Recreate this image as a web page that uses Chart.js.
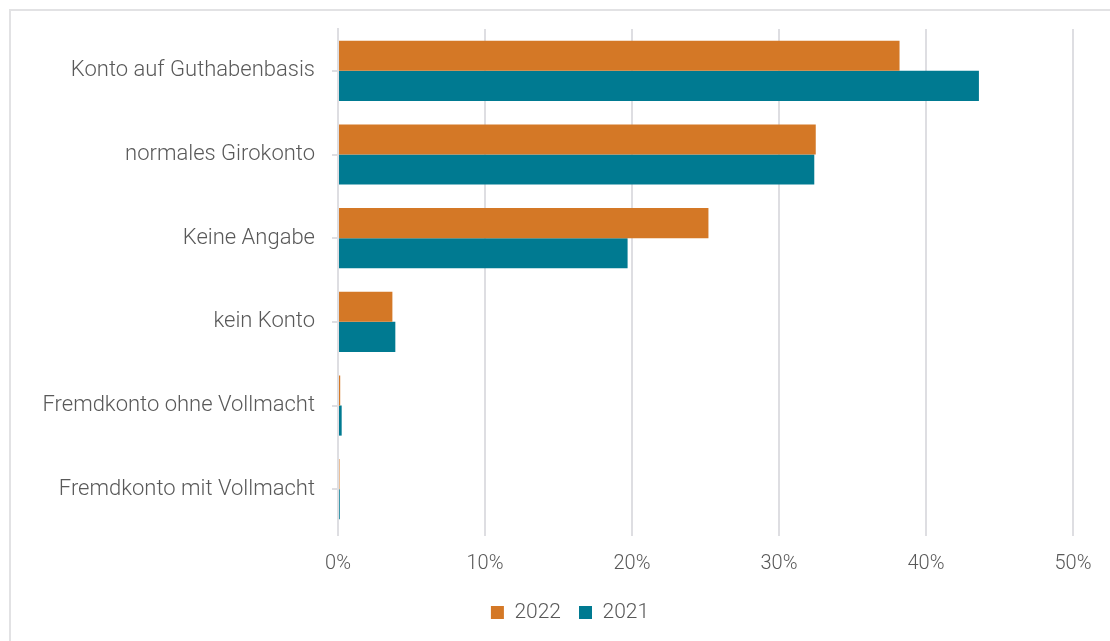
<!DOCTYPE html>
<html>
<head>
<meta charset="utf-8">
<script src="https://cdn.jsdelivr.net/npm/chart.js@4"></script>
<style>
  html, body { margin: 0; padding: 0; background: #fff; overflow: hidden; }
  #frame {
    position: absolute; left: 9px; top: 9px;
    width: 1130px; height: 650px;
    border: 2px solid #e2e2e4;
  }
  #konten { position: absolute; left: 0; top: 0; }
</style>
</head>
<body>
<div id="frame"><canvas id="konten" width="1120" height="630"></canvas></div>
<script>
// Kategorien und Anteile in Prozent
const kategorien = [
  'Konto auf Guthabenbasis',
  'normales Girokonto',
  'Keine Angabe',
  'kein Konto',
  'Fremdkonto ohne Vollmacht',
  'Fremdkonto mit Vollmacht'
]
const werte2022 = [38.2, 32.5, 25.2, 3.7, 0.15, 0.1]
const werte2021 = [43.6, 32.4, 19.7, 3.9, 0.25, 0.12]
const xTicks = [0, 10, 20, 30, 40, 50]

const textFarbe = '#595959'
const schrift = 'Roboto'

const konten = document.getElementById("konten")

new Chart(konten, {
  type: 'bar',
  data: {
    labels: kategorien,
    datasets: [
      {
        label: '2022',
        data: werte2022,
        backgroundColor: '#d47826',
        barPercentage: 1,
        categoryPercentage: 0.72
      },
      {
        label: '2021',
        data: werte2021,
        backgroundColor: '#007a91',
        barPercentage: 1,
        categoryPercentage: 0.72
      }
    ]
  },
  options: {
    indexAxis: 'y',
    responsive: false,
    animation: false,
    layout: { padding: { left: 0, right: 2, top: 18, bottom: 8 } },
    plugins: {
      legend: {
        position: 'bottom',
        labels: {
          color: textFarbe,
          font: { family: schrift, size: 21, weight: 300 },
          boxWidth: 13,
          boxHeight: 13,
          padding: 18
        }
      },
      tooltip: { enabled: false }
    },
    scales: {
      x: {
        min: 0,
        max: 50,
        afterBuildTicks: (s) => { s.ticks = xTicks.map(v => ({ value: v })) },
        ticks: {
          color: textFarbe,
          font: { family: schrift, size: 20, weight: 300 },
          padding: 16,
          callback: (v) => v + '%'
        },
        grid: { color: '#dedee2', lineWidth: 2, tickLength: 5 },
        border: { display: false },
        afterFit: (s) => { s.height = 53 }
      },
      y: {
        ticks: {
          color: textFarbe,
          font: { family: schrift, size: 22, weight: 300 },
          padding: 17
        },
        grid: { drawOnChartArea: false, offset: false, color: '#dedee2', lineWidth: 2, tickLength: 6 },
        border: { color: '#dedee2', width: 2 },
        afterFit: (s) => {
          s.width = 327
          s.paddingTop = 0
          s.paddingBottom = 0
        }
      },
      // leerer Rand rechts, damit die Legende mittig im Rahmen bleibt
      rand: {
        axis: 'y',
        position: 'right',
        ticks: { display: false },
        grid: { display: false },
        border: { display: false },
        afterFit: (s) => {
          s.width = 56
          s.paddingTop = 0
          s.paddingBottom = 0
        }
      }
    }
  }
})
</script>
</body>
</html>
